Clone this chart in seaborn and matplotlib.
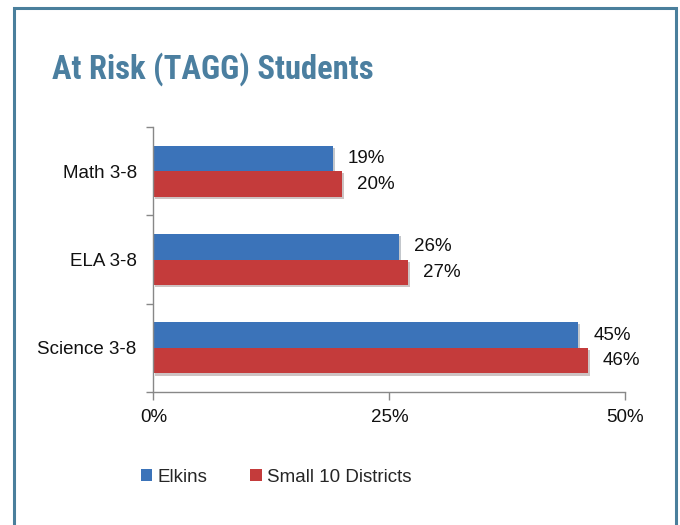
import matplotlib
matplotlib.use("Agg")
import matplotlib.pyplot as plt
import matplotlib.patheffects as pe
from matplotlib import font_manager
from matplotlib.patches import Rectangle, Patch
from matplotlib.ticker import FixedLocator, PercentFormatter
import seaborn as sns
import pandas as pd

categories = ["Math 3-8", "ELA 3-8", "Science 3-8"]
series = ["Elkins", "Small 10 Districts"]
elkins = [19, 26, 45]
small10 = [20, 27, 46]
x_ticks = [0, 25, 50]
colors = ["#3B73B9", "#C43B3B"]

df = pd.DataFrame({
    "Subject": categories * 2,
    "Group": [series[0]] * 3 + [series[1]] * 3,
    "Value": elkins + small10,
})

sns.set_theme(style="white")
plt.rcParams["font.family"] = ["Liberation Sans", "DejaVu Sans"]

fig = plt.figure(figsize=(6.8, 5.25), dpi=100)
ax = fig.add_axes([0.2255, 0.2533, 0.6941, 0.5047])

sns.barplot(data=df, y="Subject", x="Value", hue="Group", order=categories,
            hue_order=series, palette=colors, orient="h", width=0.58,
            saturation=1, legend=False, ax=ax)

for bars in ax.containers:
    for b in bars:
        b.set_edgecolor("none")
        b.set_path_effects([pe.SimplePatchShadow(offset=(1.5, -1.5), alpha=0.25), pe.Normal()])
    ax.bar_label(bars, fmt="%.0f%%", padding=11, fontsize=13.5, color="#111111")

ax.set_xlim(0, 50)
ax.set_ylim(2.5, -0.5)
ax.set_xlabel("")
ax.set_ylabel("")

ax.xaxis.set_major_locator(FixedLocator(x_ticks))
ax.xaxis.set_major_formatter(PercentFormatter(decimals=0))
ax.tick_params(axis="x", which="major", direction="out", length=6, width=1,
               color="#888888", labelsize=13.5, pad=6, labelcolor="#111111", bottom=True)

# separators between categories, with the names centred between them
ax.set_yticks([0, 1, 2], labels=categories, minor=True)
ax.set_yticks([-0.5, 0.5, 1.5, 2.5], labels=[])
ax.tick_params(axis="y", which="major", direction="out", length=5, width=1,
               color="#888888", left=True)
ax.tick_params(axis="y", which="minor", length=0, labelsize=13.5, pad=12,
               labelcolor="#111111", left=True)

for s in ["top", "right"]:
    ax.spines[s].set_visible(False)
for s in ["left", "bottom"]:
    ax.spines[s].set_color("#888888")
    ax.spines[s].set_linewidth(1)

installed = {f.name for f in font_manager.fontManager.ttflist}
title_family = next((n for n in ["Roboto Condensed", "Barlow Condensed", "Asap Condensed"]
                     if n in installed), "Liberation Sans")
fig.text(0.0765, 0.8495, "At Risk (TAGG) Students", family=title_family, weight="bold",
         fontsize=23.5, color="#4B7FA0", va="baseline", ha="left")

handles = [Patch(facecolor=c, edgecolor="none") for c in colors]
fig.legend(handles, series, loc="center left", bbox_to_anchor=(0.2074, 0.0914),
           ncol=2, frameon=False, fontsize=13.5, handlelength=0.6, handleheight=0.6,
           handletextpad=0.27, columnspacing=2.3, borderaxespad=0, borderpad=0)

fig.patches.append(Rectangle((0.0199, -0.1), 0.9735, 1.0848, transform=fig.transFigure,
                             fill=False, edgecolor="#4A7F9C", linewidth=2.2, zorder=10))

fig.savefig("out.png", dpi=100)
